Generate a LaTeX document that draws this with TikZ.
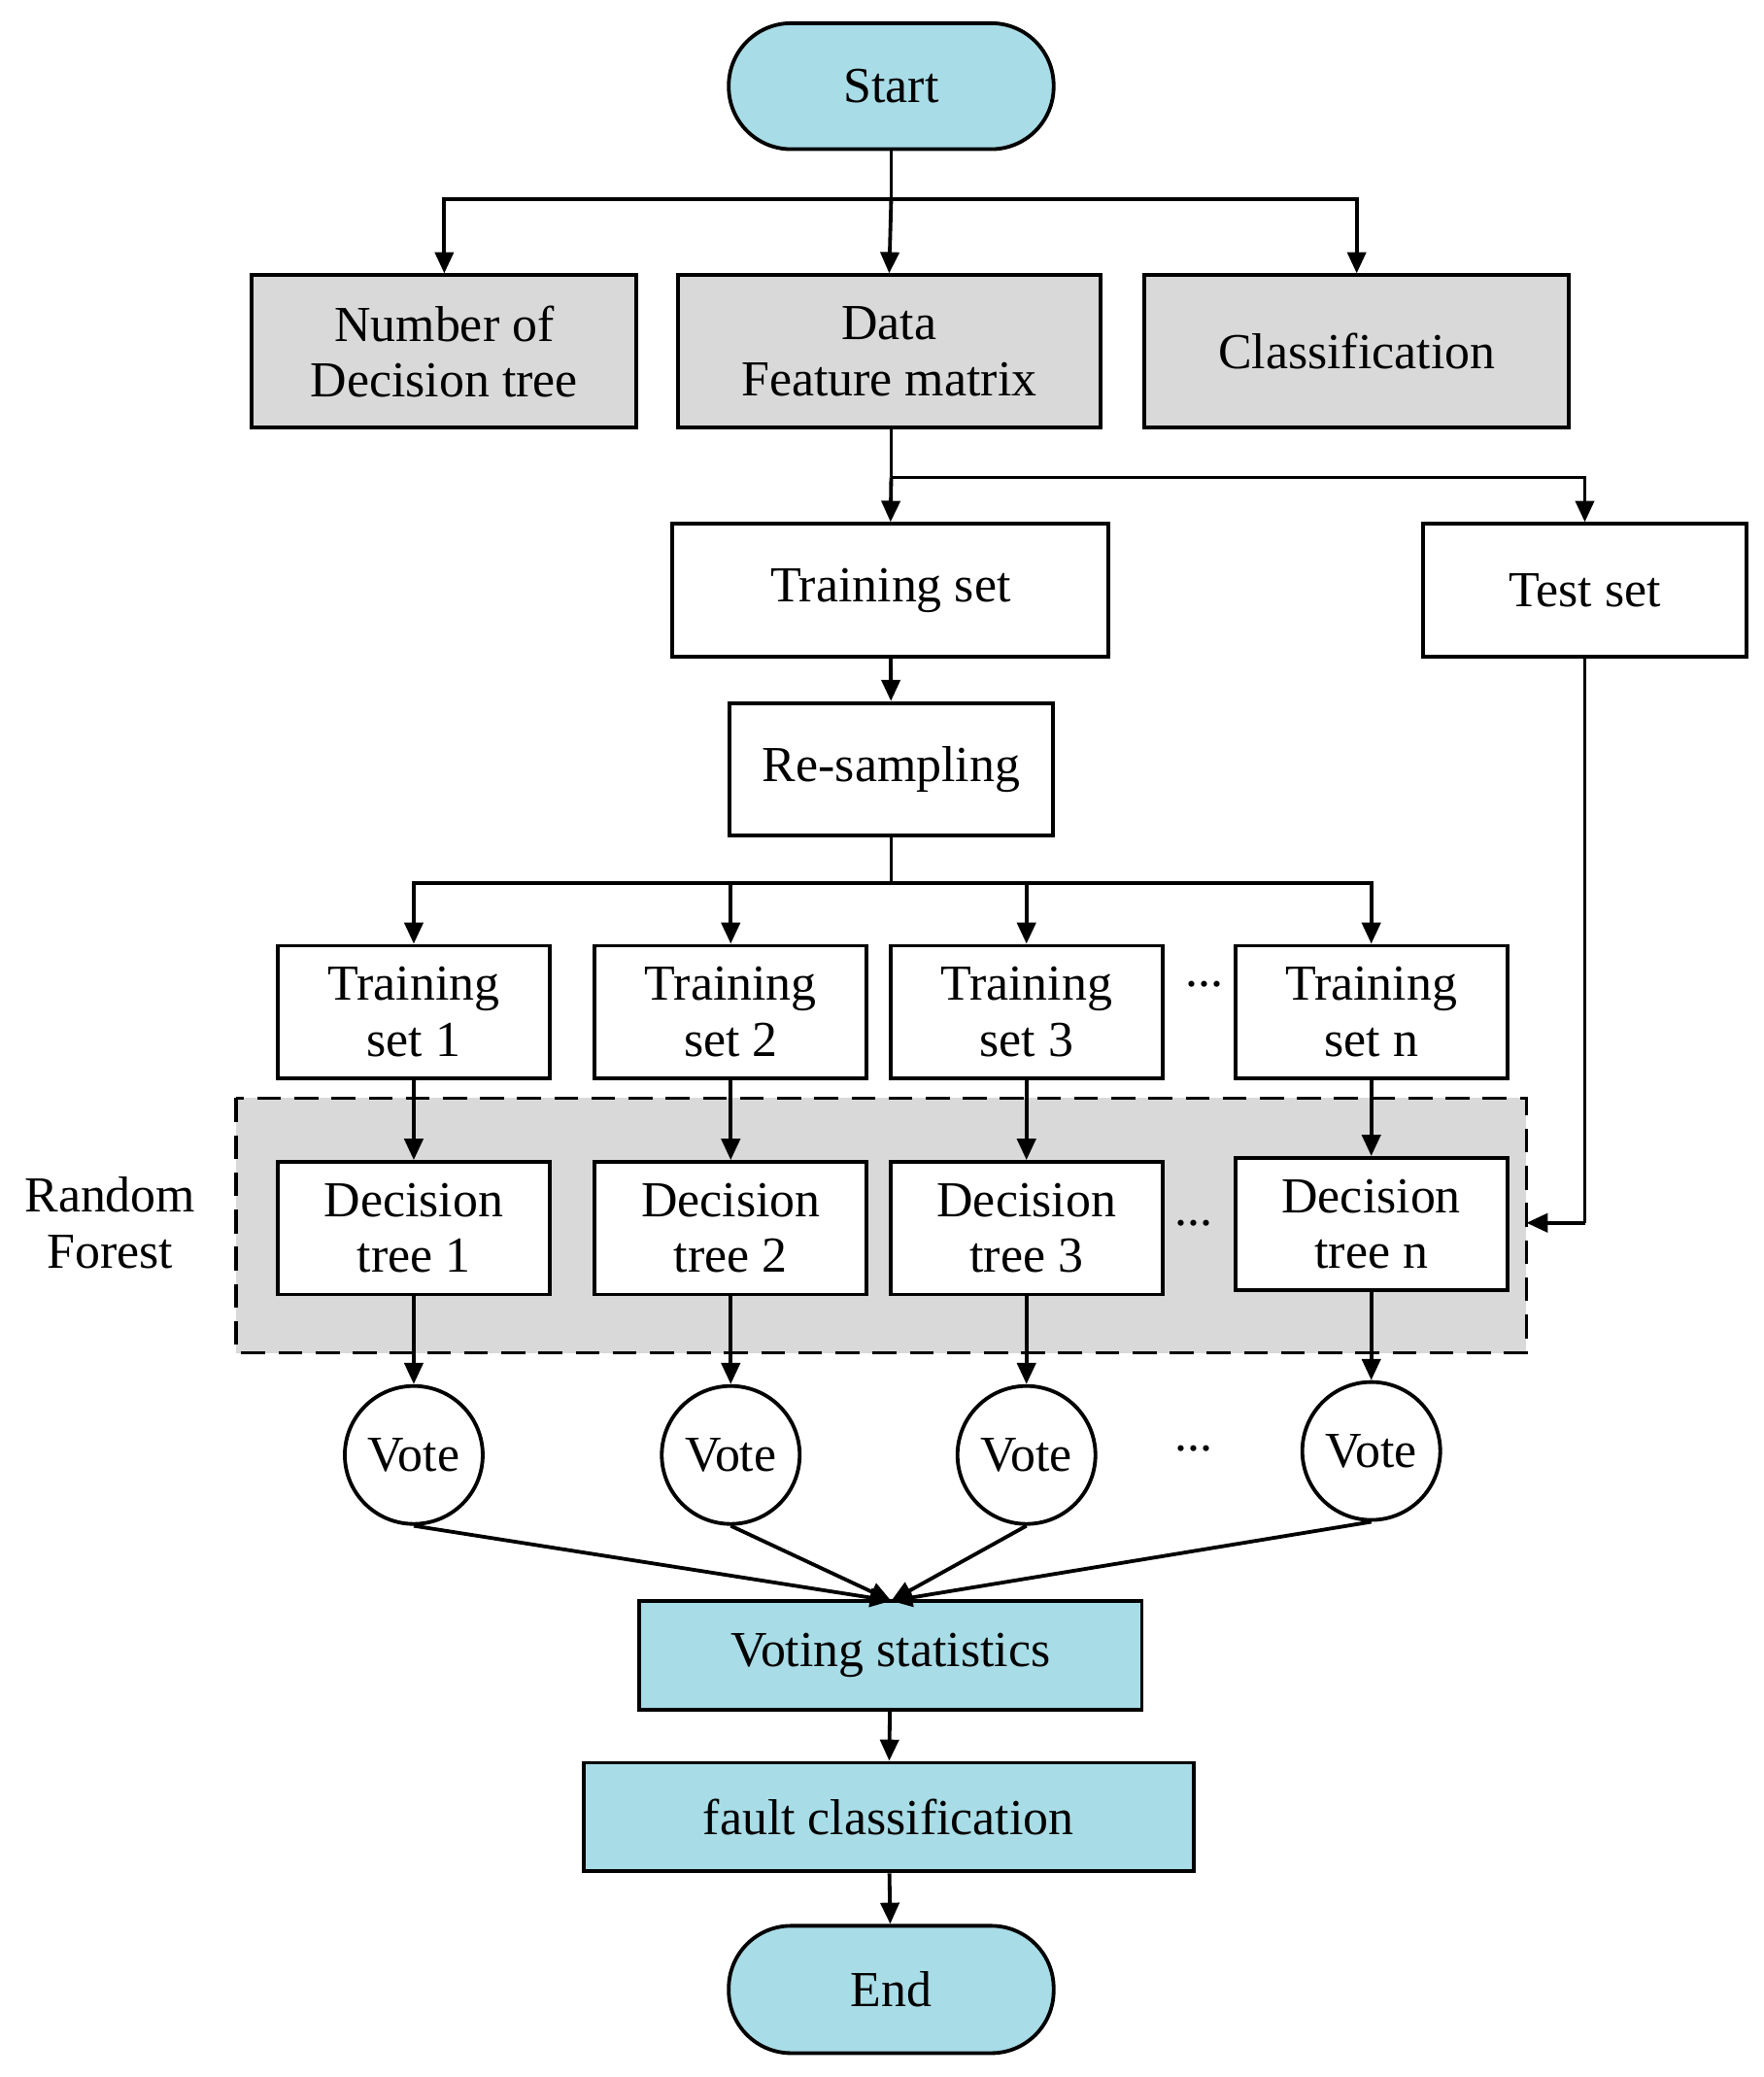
\documentclass[tikz,border=0pt]{standalone}
\usepackage{fontspec}
\setmainfont{Liberation Serif}
\usetikzlibrary{arrows.meta}
\definecolor{cy}{RGB}{168,220,230}
\definecolor{gr}{RGB}{217,217,217}
\begin{document}
\begin{tikzpicture}[x=0.5pt,y=-0.5pt,line width=1.4pt,
 box/.style={draw,rectangle,inner sep=0pt,align=center,font=\fontsize{19}{21}\selectfont},
 pill/.style={draw,rounded corners=23.5pt,fill=cy,inner sep=0pt,font=\fontsize{19}{21}\selectfont},
 vote/.style={draw,circle,fill=white,minimum size=52pt,inner sep=0pt,font=\fontsize{19}{21}\selectfont},
 arr/.style={-{Triangle[length=8pt,width=7pt]}},
 txt/.style={font=\fontsize{19}{21}\selectfont,align=center}]
\useasboundingbox (0,0) rectangle (1330,1566);
\node[pill,minimum width=122.5pt,minimum height=47.5pt] (start) at (672,65) {Start};
\node[box,fill=gr,minimum width=145pt,minimum height=57.5pt] (ndt) at (335,265) {Number of\\Decision tree};
\node[box,fill=gr,minimum width=159.5pt,minimum height=57.5pt] (data) at (670.5,265) {Data\\Feature matrix};
\node[box,fill=gr,minimum width=160pt,minimum height=57.5pt] (cls) at (1023,265) {Classification};
\coordinate (b1) at (672,150);
\draw (start) -- (b1);
\draw[arr] (b1) -| (ndt.north);
\draw[arr] (b1) -- (data.north);
\draw[arr] (b1) -| (cls.north);
\node[box,minimum width=164.5pt,minimum height=50pt] (train) at (671.5,445) {Training set};
\node[box,minimum width=122pt,minimum height=50pt] (test) at (1195,445) {Test set};
\coordinate (b2) at (672,360);
\draw (672,323) -- (b2);
\draw[arr] (b2) -- (train.north);
\draw[arr] (b2) -| (test.north);
\node[box,minimum width=122pt,minimum height=50pt] (res) at (672,580) {Re-sampling};
\draw[arr] (train) -- (res);
\fill[gr] (178,828) rectangle (1151,1020);
\draw[dashed,dash pattern=on 9pt off 5pt] (178,828) rectangle (1151,1020);
\node[txt] (rf) at (83,922) {Random\\Forest};
\coordinate (b3) at (672,666);
\draw (res) -- (b3);
\foreach \i/\x/\lab/\dy in {1/312/1/0,2/551/2/0,3/774/3/0,4/1034/n/-3}{
 \node[box,fill=white,minimum width=102.5pt,minimum height=50pt] (ts\i) at (\x,763) {Training\\ set \lab};
 \draw[arr] (b3) -| (ts\i.north);
 \node[box,fill=white,minimum width=102.5pt,minimum height=50pt] (dt\i) at (\x,926+\dy) {Decision\\tree \lab};
 \draw[arr] (ts\i) -- (dt\i);
 \node[vote] (v\i) at (\x,1097+\dy) {Vote};
 \draw[arr] (dt\i) -- (v\i);
}
\node[txt] at (908,742) {...};
\node[txt] at (900,922) {...};
\node[txt] at (900,1092) {...};
\coordinate (tc) at (1195,922);
\draw (test) -- (tc);
\draw[arr] (tc) -- (1151,922);
\node[box,fill=cy,minimum width=189.5pt,minimum height=41pt] (vs) at (671.5,1248) {Voting statistics};
\foreach \i in {1,2,3,4}{\draw[arr] (v\i.south) -- (672,1207);}
\node[box,fill=cy,minimum width=230pt,minimum height=41pt] (fc) at (670,1370) {fault classification};
\draw[arr] (vs) -- (fc);
\node[pill,minimum width=122.5pt,minimum height=48pt] (end) at (672,1500) {End};
\draw[arr] (fc) -- (end);
\end{tikzpicture}
\end{document}
